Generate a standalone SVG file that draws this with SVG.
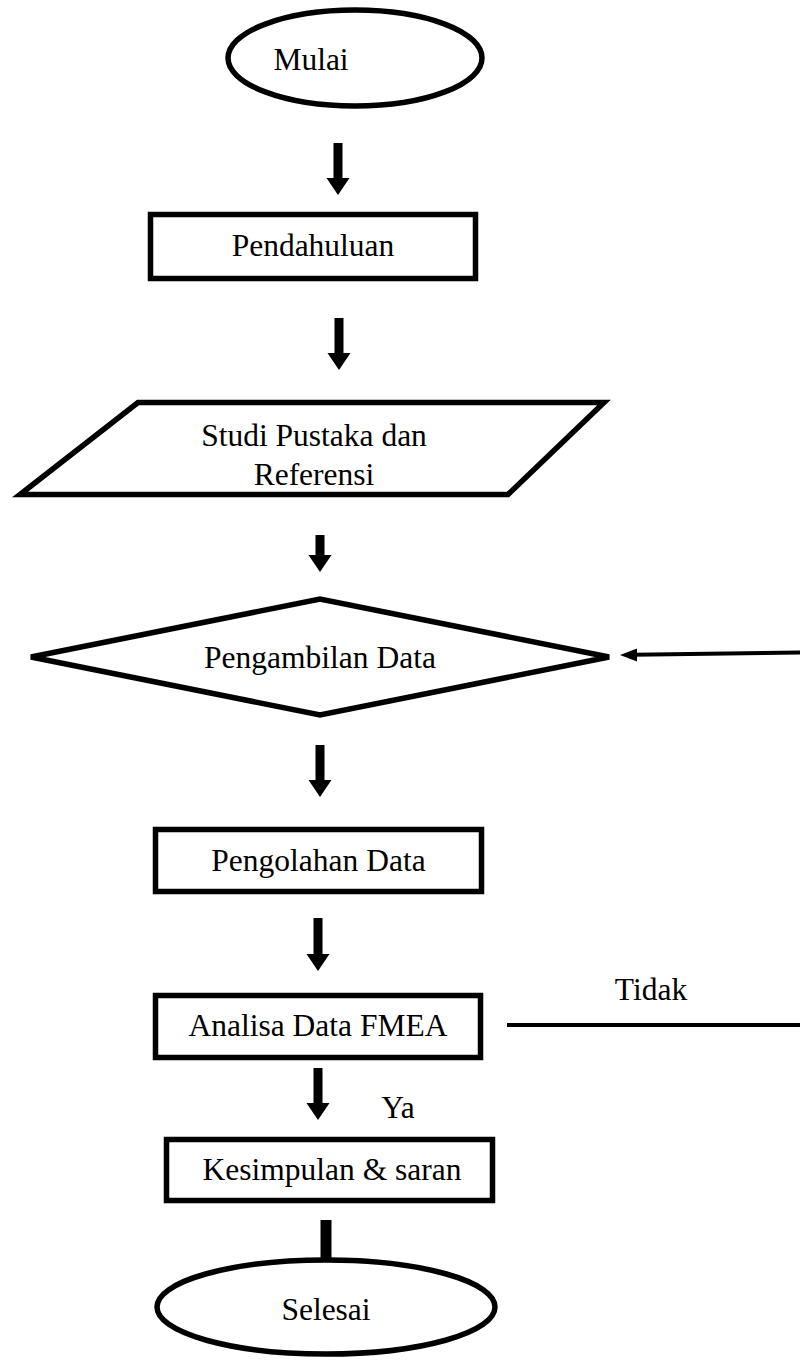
<svg xmlns="http://www.w3.org/2000/svg" width="800" height="1360" viewBox="0 0 800 1360">
<style>
.shape{fill:#fff;stroke:#000;stroke-width:5.5}
.t{font-family:"Liberation Serif","Times New Roman",serif;font-size:31.5px;fill:#000;text-anchor:middle}
.arr{fill:#000}
.ln{stroke:#000;stroke-width:4;fill:none}
</style>
<rect width="800" height="1360" fill="#fff"/>
<g id="connectors">
<polygon class="arr" points="333.5,143 342.5,143 342.5,178 349.5,178 338,195 326.5,178 333.5,178"/>
<polygon class="arr" points="334.5,318 343.5,318 343.5,353 350.5,353 339,370 327.5,353 334.5,353"/>
<polygon class="arr" points="315.5,535 324.5,535 324.5,555 331.5,555 320,572 308.5,555 315.5,555"/>
<polygon class="arr" points="315.5,745 324.5,745 324.5,780 331.5,780 320,797 308.5,780 315.5,780"/>
<polygon class="arr" points="313.5,918 322.5,918 322.5,954 329.5,954 318,971 306.5,954 313.5,954"/>
<polygon class="arr" points="313.5,1068 322.5,1068 322.5,1103 329.5,1103 318,1120 306.5,1103 313.5,1103"/>
<rect class="arr" x="320.5" y="1220" width="11" height="40"/>
<line class="ln" x1="507" y1="1025" x2="800" y2="1025"/>
<line class="ln" x1="800" y1="652.5" x2="633" y2="654.8" stroke-width="3.5"/>
<polygon class="arr" points="620,655 637,648.5 637,661.5"/>
<text class="t" x="651" y="1000">Tidak</text>
<text class="t" x="398" y="1118">Ya</text>
</g>
<g id="mulai">
<ellipse class="shape" cx="355" cy="58" rx="127" ry="48"/>
<text class="t" x="311" y="70">Mulai</text>
</g>
<g id="pendahuluan">
<rect class="shape" x="150.5" y="214.5" width="325" height="64"/>
<text class="t" x="313" y="256">Pendahuluan</text>
</g>
<g id="studi">
<polygon class="shape" points="138,402.5 604,402.5 508,494.5 20,494.5"/>
<text class="t" x="314" y="446">Studi Pustaka dan</text>
<text class="t" x="314" y="485">Referensi</text>
</g>
<g id="pengambilan">
<polygon class="shape" points="31,657 320,599 609,657 320,715"/>
<text class="t" x="320" y="668">Pengambilan Data</text>
</g>
<g id="pengolahan">
<rect class="shape" x="155.5" y="829.5" width="326" height="62"/>
<text class="t" x="318.5" y="871">Pengolahan Data</text>
</g>
<g id="analisa">
<rect class="shape" x="155.5" y="995.5" width="325" height="62"/>
<text class="t" x="318" y="1036">Analisa Data FMEA</text>
</g>
<g id="kesimpulan">
<rect class="shape" x="166.5" y="1139.5" width="326" height="61"/>
<text class="t" x="332" y="1180">Kesimpulan &amp; saran</text>
</g>
<g id="selesai">
<ellipse class="shape" cx="326" cy="1307" rx="169" ry="47"/>
<text class="t" x="326" y="1320">Selesai</text>
</g>
</svg>
